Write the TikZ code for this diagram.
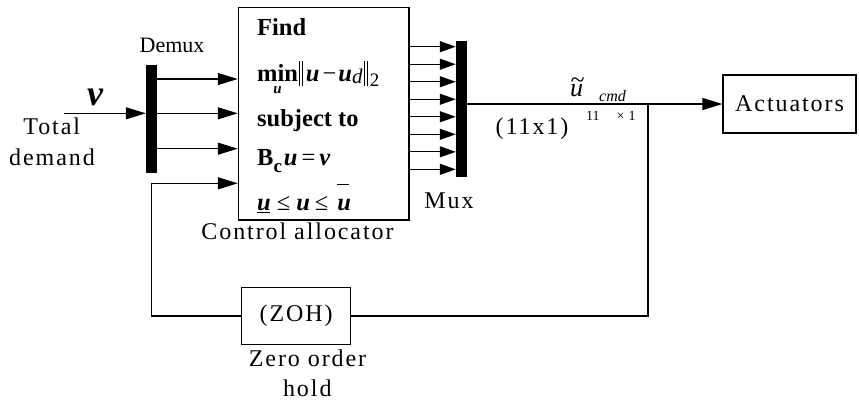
\documentclass[tikz,border=0pt]{standalone}
\usepackage{fontspec}
\setmainfont{Liberation Serif}
\newfontfamily\spacedfont{Liberation Serif}[LetterSpace=8]
\usetikzlibrary{arrows.meta}
\newcommand{\nbar}{\rule[-4pt]{1pt}{25pt}\hspace{2.4pt}\rule[-4pt]{1pt}{25pt}}
\begin{document}
\begin{tikzpicture}[x=1pt,y=-1pt,
  line/.style={line width=1.2pt},
  arr/.style={line, -{Triangle[length=20pt,width=12pt]}},
  marr/.style={line, -{Triangle[length=16pt,width=11pt]}},
  blk/.style={draw, line width=1.2pt, inner sep=0pt},
  bar/.style={fill=black, inner sep=0pt},
  lbl/.style={font=\spacedfont\fontsize{24}{28}\selectfont, inner sep=0pt, anchor=base},
  eq/.style={font=\fontsize{24.5}{28}\selectfont\bfseries, inner sep=0pt, anchor=base west},
]
\useasboundingbox (0,0) rectangle (859,405);
% blocks
\node[bar, minimum width=11pt, minimum height=108pt] (demux) at (151.5,119) {};
\node[bar, minimum width=10.7pt, minimum height=136.6pt] (mux) at (461.3,109) {};
\node[blk, minimum width=170.7pt, minimum height=212.7pt] (ca) at (323.7,113.7) {};
\node[blk, minimum width=133pt, minimum height=58pt, font=\spacedfont\fontsize{24}{28}\selectfont] (act) at (789.5,104) {Actuators};
\node[blk, minimum width=109pt, minimum height=57.4pt, font=\spacedfont\fontsize{24}{28}\selectfont] (zoh) at (296.2,316) {(ZOH)};
% labels
\node[anchor=base, inner sep=0pt, font=\fontsize{22}{24}\selectfont] (demuxlbl) at (172,52) {Demux};
\node[anchor=base, inner sep=0pt, font=\fontsize{36}{36}\selectfont\bfseries\itshape] (vlbl) at (95,105) {v};
\node[lbl] (tot1) at (51.7,134) {Total};
\node[lbl] (tot2) at (52,165) {demand};
\node[lbl] (calbl) at (297.5,239) {Control allocator};
\node[lbl] (muxlbl) at (449,208) {Mux};
\node[lbl] (zoh1) at (307.5,366.7) {Zero order};
\node[lbl] (zoh2) at (307.3,396) {hold};
\node[anchor=base, inner sep=0pt, font=\fontsize{26}{28}\selectfont\itshape] (ut) at (576.5,96) {\rlap{\hspace{0.5pt}\raisebox{8pt}{\upshape\~{}}}u};
\node[anchor=base west, inner sep=0pt, font=\fontsize{16}{16}\selectfont\itshape] (cmd) at (599,101.7) {cmd};
\node[lbl] (dim) at (532,134) {(11x1)};
\node[anchor=base west, inner sep=0pt, font=\fontsize{14}{14}\selectfont] (dimsup) at (586,120.7) {11\hspace{17pt}×\hspace{4pt}1};
% equations
\node[eq] (find) at (257,35) {Find};
\node[eq] (minl) at (257,81.7) {\setbox0\hbox{min}\copy0\llap{\hbox to\wd0{\hss\raisebox{-11.5pt}{\fontsize{15}{15}\selectfont\itshape u}\hss}}\hspace{0.5pt}\nbar\hspace{3pt}\textit{u}\hspace{3pt}{\mdseries −}\hspace{2pt}\textit{u}\raisebox{-1.6pt}{\fontsize{21}{21}\selectfont\mdseries\itshape d}\hspace{1.5pt}\nbar\raisebox{-4.3pt}{\fontsize{19}{19}\selectfont\mdseries\hspace{1.5pt}2}};
\node[eq] (subj) at (257,126.7) {subject to};
\node[eq] (bc) at (257,165) {B\raisebox{-7.7pt}{\fontsize{19}{19}\selectfont c}\hspace{2pt}\textit{u}\hspace{4pt}{\mdseries =}\hspace{4pt}\textit{v}};
\node[eq] (bnd) at (257,210) {\rlap{\raisebox{-3pt}{\rule{13pt}{1.2pt}}}\textit{u}\hspace{6pt}{\mdseries ≤}\hspace{6pt}\textit{u}\hspace{5pt}{\mdseries ≤}\hspace{9pt}\rlap{\raisebox{25pt}{\rule{12pt}{1.2pt}}}\textit{u}};
% connectors
\coordinate (vin) at (64,113.3);
\draw[arr] (vin) -- (demux.west |- vin);
\foreach \y in {79,113.3,148.7} {
  \coordinate (t) at (0,\y);
  \draw[arr] (demux.east |- t) -- (ca.west |- t);
}
\foreach \i in {0,...,7} {
  \pgfmathsetmacro\yy{46.7+17.52*\i}
  \coordinate (t) at (0,\yy);
  \draw[marr] (ca.east |- t) -- (mux.west |- t);
}
\coordinate (split) at (648,104);
\draw[line] (mux.east |- act.west) -- (split);
\draw[arr] (split) -- (act.west);
\draw[line] (split) -- (split |- zoh.east) -- (zoh.east);
\coordinate (fbl) at (151.7,183.3);
\draw[arr] (zoh.west) -- (fbl |- zoh.west) -- (fbl) -- (ca.west |- fbl);
\end{tikzpicture}
\end{document}
